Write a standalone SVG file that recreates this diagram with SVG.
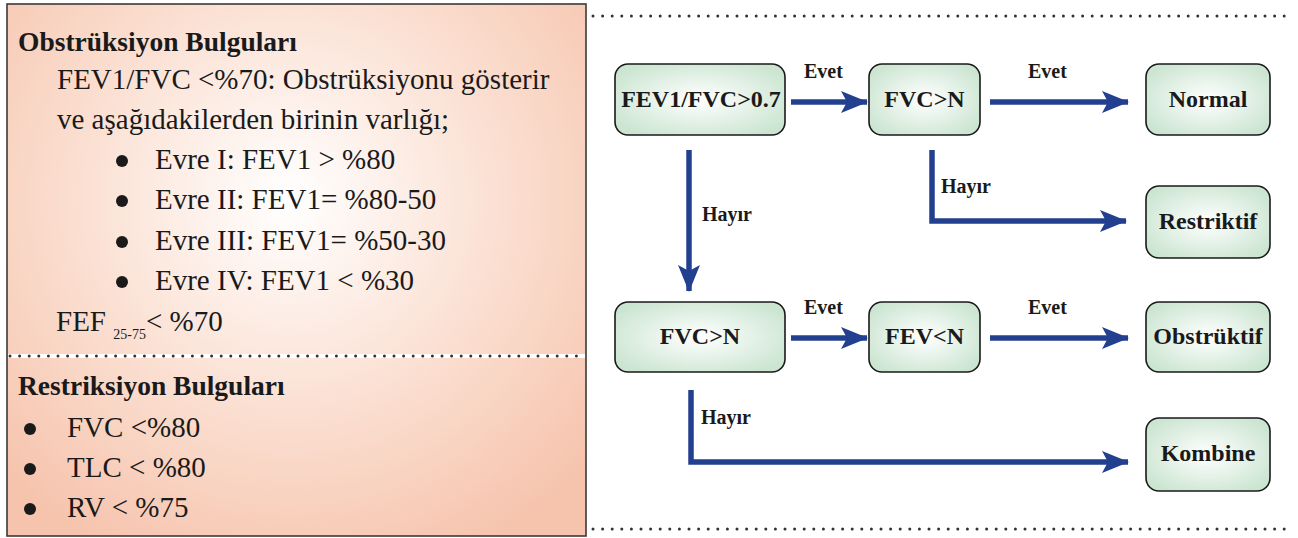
<svg xmlns="http://www.w3.org/2000/svg" width="1298" height="538" viewBox="0 0 1298 538">
  <defs>
    <radialGradient id="panelFill" gradientUnits="userSpaceOnUse" cx="290" cy="200" r="400">
      <stop offset="0" stop-color="#ffffff"/>
      <stop offset="0.5" stop-color="#fbe1d4"/>
      <stop offset="1" stop-color="#f6c3ac"/>
    </radialGradient>
    <radialGradient id="nodeFill" cx="0.5" cy="0.5" r="0.6">
      <stop offset="0" stop-color="#ffffff"/>
      <stop offset="1" stop-color="#cbe5d1"/>
    </radialGradient>
    <marker id="head" viewBox="0 0 27 22" refX="26" refY="11" markerWidth="27" markerHeight="22" markerUnits="userSpaceOnUse" orient="auto">
      <path d="M0,0 L27,11 L0,22 L6,11 Z" fill="#233f8f"/>
    </marker>
    <style>
      text { font-family: 'Liberation Serif', 'Times New Roman', serif; fill: #1a1a1a; }
      .h { font-size: 27.5px; font-weight: bold; }
      .t { font-size: 29px; }
      .sub { font-size: 14px; }
      .dot { fill: #1a1a1a; }
      .node rect { fill: url(#nodeFill); stroke: #1a1a1a; stroke-width: 1.6; }
      .node text { font-weight: bold; font-size: 24px; text-anchor: middle; }
      .lbl { font-weight: bold; font-size: 20px; }
      .conn { fill: none; stroke: #233f8f; stroke-width: 5.5; marker-end: url(#head); }
      .dots { stroke: #333; stroke-width: 3; stroke-linecap: round; stroke-dasharray: 0 9.6; }
    </style>
  </defs>

  <rect width="1298" height="538" fill="#ffffff"/>

  <!-- Findings panel -->
  <g id="findings">
    <rect x="7" y="4" width="579" height="532" fill="url(#panelFill)" stroke="#3a3a3a" stroke-width="1.6"/>
    <line x1="8" y1="356" x2="585" y2="356" stroke="#ffffff" stroke-width="4"/>
    <line x1="10" y1="356" x2="585" y2="356" class="dots"/>

    <text class="h" x="18" y="51">Obstrüksiyon Bulguları</text>
    <text class="t" x="57" y="89">FEV1/FVC &lt;%70: Obstrüksiyonu gösterir</text>
    <text class="t" x="57" y="129">ve aşağıdakilerden birinin varlığı;</text>
    <circle class="dot" cx="122" cy="161" r="6"/><text class="t" x="155" y="169">Evre I: FEV1 &gt; %80</text>
    <circle class="dot" cx="122" cy="201" r="6"/><text class="t" x="155" y="209">Evre II: FEV1= %80-50</text>
    <circle class="dot" cx="122" cy="242" r="6"/><text class="t" x="155" y="250">Evre III: FEV1= %50-30</text>
    <circle class="dot" cx="122" cy="282" r="6"/><text class="t" x="155" y="290">Evre IV: FEV1 &lt; %30</text>
    <text class="t" x="56" y="331">FEF <tspan class="sub" dy="8">25-75</tspan><tspan dy="-8">&lt; %70</tspan></text>

    <text class="h" x="18" y="395">Restriksiyon Bulguları</text>
    <circle class="dot" cx="30" cy="429" r="6"/><text class="t" x="67" y="437">FVC &lt;%80</text>
    <circle class="dot" cx="30" cy="469" r="6"/><text class="t" x="67" y="477">TLC &lt; %80</text>
    <circle class="dot" cx="30" cy="509" r="6"/><text class="t" x="67" y="517">RV &lt; %75</text>
  </g>

  <!-- frame rules -->
  <line x1="593" y1="16" x2="1292" y2="16" class="dots"/>
  <line x1="593" y1="529" x2="1292" y2="529" class="dots"/>

  <!-- connectors -->
  <g id="connectors">
    <line class="conn" x1="791" y1="102" x2="867" y2="102"/>
    <line class="conn" x1="990" y1="102" x2="1128" y2="102"/>
    <line class="conn" x1="689" y1="150" x2="689" y2="291"/>
    <polyline class="conn" points="932,150 932,221 1126,221"/>
    <line class="conn" x1="791" y1="338" x2="867" y2="338"/>
    <line class="conn" x1="990" y1="338" x2="1128" y2="338"/>
    <polyline class="conn" points="691,390 691,462 1128,462"/>

    <text class="lbl" x="804" y="78">Evet</text>
    <text class="lbl" x="1028" y="78">Evet</text>
    <text class="lbl" x="702" y="221">Hayır</text>
    <text class="lbl" x="941" y="193">Hayır</text>
    <text class="lbl" x="804" y="314">Evet</text>
    <text class="lbl" x="1028" y="314">Evet</text>
    <text class="lbl" x="701" y="424">Hayır</text>
  </g>

  <!-- decision nodes -->
  <g id="n-fev1fvc" class="node"><rect x="615" y="64" width="170" height="71" rx="13"/><text x="701" y="107">FEV1/FVC&gt;0.7</text></g>
  <g id="n-fvc1" class="node"><rect x="869" y="64" width="111" height="71" rx="13"/><text x="924.5" y="107">FVC&gt;N</text></g>
  <g id="n-normal" class="node"><rect x="1146" y="64" width="124" height="71" rx="13"/><text x="1208" y="107">Normal</text></g>
  <g id="n-restriktif" class="node"><rect x="1146" y="186" width="124" height="72" rx="13"/><text x="1208" y="229">Restriktif</text></g>
  <g id="n-fvc2" class="node"><rect x="615" y="302" width="170" height="70" rx="13"/><text x="700" y="344">FVC&gt;N</text></g>
  <g id="n-fev" class="node"><rect x="869" y="302" width="111" height="70" rx="13"/><text x="924.5" y="344">FEV&lt;N</text></g>
  <g id="n-obstruktif" class="node"><rect x="1146" y="302" width="124" height="70" rx="13"/><text x="1208" y="344">Obstrüktif</text></g>
  <g id="n-kombine" class="node"><rect x="1146" y="418" width="124" height="73" rx="13"/><text x="1208" y="461">Kombine</text></g>
</svg>
